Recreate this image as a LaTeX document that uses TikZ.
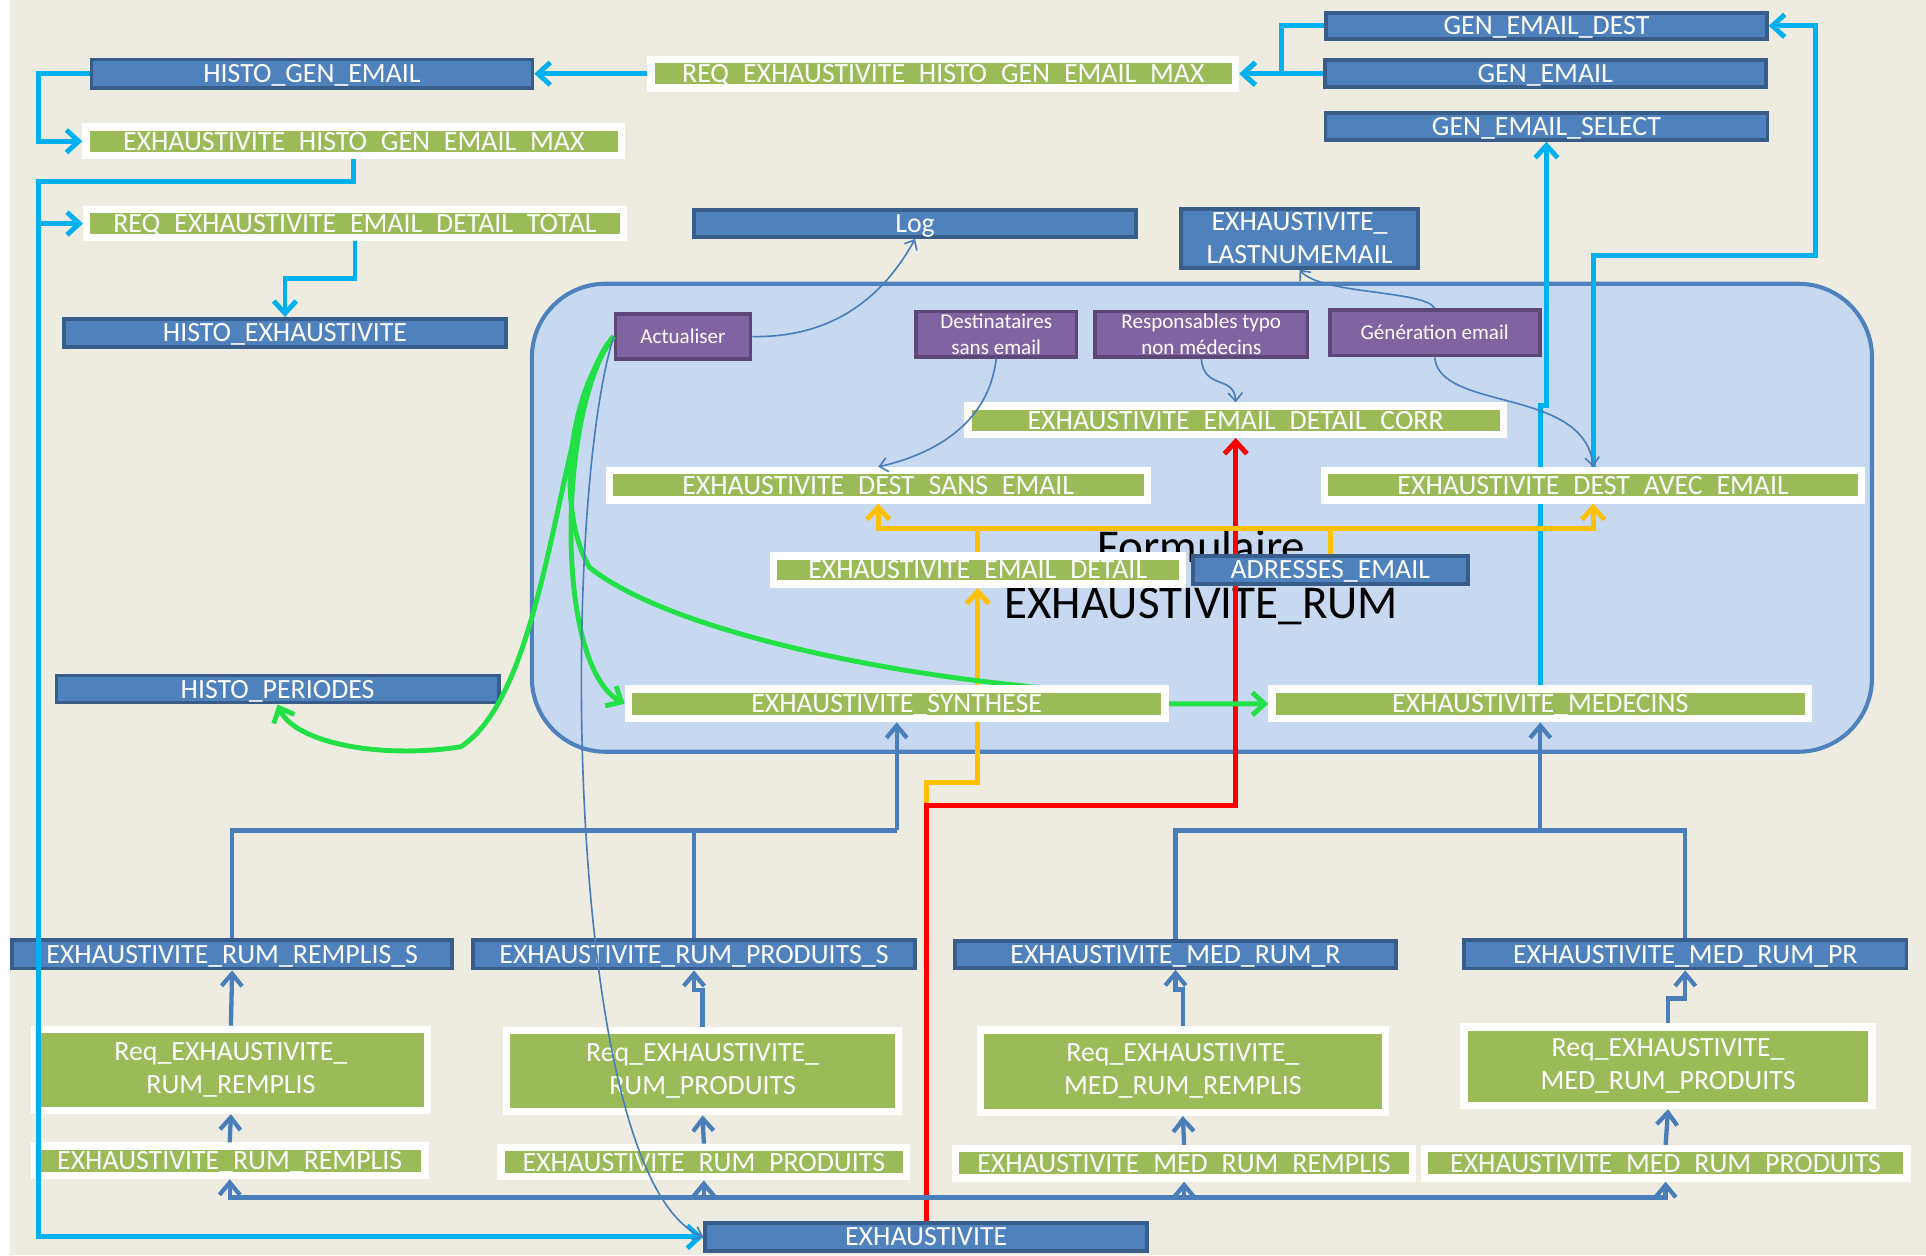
\documentclass[tikz,border=0pt]{standalone}
\usepackage{fontspec}
\setmainfont{Carlito}
\usetikzlibrary{arrows.meta}

\definecolor{paper}{HTML}{EEECE1}
\definecolor{tblfill}{HTML}{4F81BD}
\definecolor{tbledge}{HTML}{385D8A}
\definecolor{reqfill}{HTML}{9BBB59}
\definecolor{actfill}{HTML}{8064A2}
\definecolor{actedge}{HTML}{5C4776}
\definecolor{formfill}{HTML}{C6D9F1}
\definecolor{cyanc}{HTML}{00B0F0}
\definecolor{navc}{HTML}{22E046}
\definecolor{feedc}{HTML}{FFC000}
\definecolor{depc}{HTML}{4A7EBB}

\pgfdeclarelayer{back}
\pgfdeclarelayer{mid}
\pgfsetlayers{back,mid,main}

\tikzset{
  tbl/.style 2 args={draw=tbledge, fill=tblfill, line width=1.8pt, text=white,
    font=\fontsize{13.6}{16.2}\selectfont, inner sep=0pt, align=center,
    text height=8.8pt, text depth=0pt,
    minimum width={#1*0.6pt-1.8pt}, minimum height={#2*0.6pt-1.8pt}},
  req/.style 2 args={draw=white, fill=reqfill, line width=3.6pt, text=white,
    font=\fontsize{13.6}{16.2}\selectfont, inner sep=0pt, align=center,
    text height=8.8pt, text depth=0pt,
    minimum width={#1*0.6pt-3.6pt}, minimum height={#2*0.6pt-3.6pt}},
  act/.style 2 args={draw=actedge, fill=actfill, line width=1.8pt, text=white,
    font=\fontsize{10.3}{12.6}\selectfont, inner sep=0pt, align=center,
    text height=6.6pt, text depth=0pt,
    minimum width={#1*0.6pt-1.8pt}, minimum height={#2*0.6pt-1.8pt}},
  two/.style={text height=, text depth=},
  panel/.style={draw=tblfill, fill=formfill, line width=2pt, rounded corners=36pt},
  title/.style={font=\fontsize{23}{27.6}\selectfont, align=center, inner sep=0pt},
  flow/.style={draw=cyanc, line width=2.4pt, >={Straight Barb[length=6pt,width=11pt]}, ->},
  nav/.style={draw=navc, line width=2.4pt, >={Straight Barb[length=6pt,width=11pt]}, ->},
  feed/.style={draw=feedc, line width=2.4pt, >={Straight Barb[length=6pt,width=11pt]}, ->},
  hot/.style={draw=red, line width=2.4pt, >={Straight Barb[length=6pt,width=11pt]}, ->},
  dep/.style={draw=depc, line width=2.1pt, >={Straight Barb[length=6pt,width=10pt]}, ->},
  link/.style={draw=depc, line width=0.8pt, >={Straight Barb[length=4pt,width=7pt]}, ->},
}

\begin{document}
\begin{tikzpicture}[x=0.6pt, y=-0.6pt]
\useasboundingbox (0,0) rectangle (1568,1022);

% tables
\node[tbl={362}{26}] (histogen) at (254,60) {HISTO\_GEN\_EMAIL};
\node[tbl={362}{24}] (gendest) at (1259,21) {GEN\_EMAIL\_DEST};
\node[tbl={362}{25}] (genmail) at (1258,60) {GEN\_EMAIL};
\node[tbl={363}{25}] (gensel) at (1259,103) {GEN\_EMAIL\_SELECT};
\node[tbl={363}{25}] (log) at (745,182) {Log};
\node[tbl={196}{51},two] (lastnum) at (1058,194) {EXHAUSTIVITE\_\\LASTNUMEMAIL};
\node[tbl={363}{26}] (histoexh) at (232,271) {HISTO\_EXHAUSTIVITE};
\node[tbl={363}{25}] (histoper) at (226,561) {HISTO\_PERIODES};
\node[tbl={227}{26}] (adr) at (1083,464) {ADRESSES\_EMAIL};
\node[tbl={361}{26}] (rrs) at (189,777) {EXHAUSTIVITE\_RUM\_REMPLIS\_S};
\node[tbl={363}{26}] (rps) at (565,777) {EXHAUSTIVITE\_RUM\_PRODUITS\_S};
\node[tbl={362}{25}] (mrr) at (957,777) {EXHAUSTIVITE\_MED\_RUM\_R};
\node[tbl={363}{26}] (mrp) at (1372,777) {EXHAUSTIVITE\_MED\_RUM\_PR};
\node[tbl={363}{26}] (exh) at (754,1007) {EXHAUSTIVITE};

% requetes
\node[req={482}{29}] (reqmax) at (768,60) {REQ\_EXHAUSTIVITE\_HISTO\_GEN\_EMAIL\_MAX};
\node[req={442}{29}] (histomax) at (288,115) {EXHAUSTIVITE\_HISTO\_GEN\_EMAIL\_MAX};
\node[req={443}{29}] (reqtotal) at (289,182) {REQ\_EXHAUSTIVITE\_EMAIL\_DETAIL\_TOTAL};
\node[req={442}{29}] (corr) at (1006,342) {EXHAUSTIVITE\_EMAIL\_DETAIL\_CORR};
\node[req={444}{30}] (destsans) at (715,395) {EXHAUSTIVITE\_DEST\_SANS\_EMAIL};
\node[req={443}{30}] (destavec) at (1297,395) {EXHAUSTIVITE\_DEST\_AVEC\_EMAIL};
\node[req={339}{29}] (emaildet) at (796,464) {EXHAUSTIVITE\_EMAIL\_DETAIL};
\node[req={443}{30}] (synth) at (730,573) {EXHAUSTIVITE\_SYNTHESE};
\node[req={443}{30}] (medecins) at (1254,573) {EXHAUSTIVITE\_MEDECINS};
\node[req={326}{72},two] (reqrr) at (188,871) {Req\_EXHAUSTIVITE\_\\RUM\_REMPLIS};
\node[req={325}{72},two] (reqrp) at (572,872) {Req\_EXHAUSTIVITE\_\\RUM\_PRODUITS};
\node[req={336}{73},two] (reqmrr) at (963,872) {Req\_EXHAUSTIVITE\_\\MED\_RUM\_REMPLIS};
\node[req={338}{70},two] (reqmrp) at (1358,868) {Req\_EXHAUSTIVITE\_\\MED\_RUM\_PRODUITS};
\node[req={324}{30}] (err) at (187,945) {EXHAUSTIVITE\_RUM\_REMPLIS};
\node[req={336}{30}] (erp) at (573,946) {EXHAUSTIVITE\_RUM\_PRODUITS};
\node[req={378}{30}] (emrr) at (964,947) {EXHAUSTIVITE\_MED\_RUM\_REMPLIS};
\node[req={399}{30}] (emrp) at (1356,947) {EXHAUSTIVITE\_MED\_RUM\_PRODUITS};

% boutons du formulaire
\node[act={113}{40}] (act) at (556,274) {Actualiser};
\node[act={134}{40},two] (dest) at (811,272) {Destinataires\\sans email};
\node[act={176}{40},two] (resp) at (978,272) {Responsables typo\\non médecins};
\node[act={174}{40}] (gen) at (1168,271) {Génération email};

\begin{pgfonlayer}{back}
\fill[white] (0,0) rectangle (1568,1022);
\fill[paper] (8,0) rectangle (1568,1022);
\node[panel, minimum width=654.6pt, minimum height=228.6pt] (form) at (978.5,421.5) {};
\node[title] (formtitle) at (978,470) {Formulaire\\EXHAUSTIVITE\_RUM};
\end{pgfonlayer}

\coordinate (rail) at (31,148);
\coordinate (bus) at (900,430);
\coordinate (lj) at (730,676);
\coordinate (rj) at (1254,676);
\coordinate (low) at (754,975);

\begin{pgfonlayer}{mid}
\draw[dep,-] (exh.north) -- (low);
\draw[feed] (exh.north) -- ++(0,-357) -| (emaildet.south);
\draw[hot] (exh.north) -- ++(0,-338) -| (corr.south);
\draw[flow] (medecins.north) -- ++(0,-228) -| (gensel.south);
\draw[nav] (act.west) .. controls (458,330) and (455,420) .. (480,462)
  .. controls (540,510) and (700,545) .. (830,558) -- (synth.east) -- (medecins.west);
\end{pgfonlayer}

% historique
\draw[flow] (genmail.west) -- (reqmax.east);
\draw[flow] (gendest.west) -- ++(-35,0) |- (reqmax.east);
\draw[flow] (reqmax.west) -- (histogen.east);
\draw[flow] (histogen.west) -- ++(-42,0) |- (histomax.west);
\draw[flow] (histomax.south) |- (rail) |- (exh.west);
\draw[flow] (rail |- reqtotal.west) -- (reqtotal.west);
\draw[flow] (reqtotal.south) -- ++(0,30) -| (histoexh.north);
\draw[flow] (destavec.north) |- (1478,208) |- (gendest.east);

% adresses
\draw[feed,<->] (destsans.south) |- (bus) -| (destavec.south);
\draw[feed,-] (emaildet.north) -- (emaildet.north |- bus);
\draw[feed,-] (adr.north) -- (adr.north |- bus);

% actualiser
\draw[nav] (act.west) .. controls (455,320) and (450,560) .. (375,608)
  .. controls (310,618) and (240,605) .. (histoper.south);
\draw[nav] (act.west) .. controls (455,330) and (450,540) .. (synth.west);

% chaine RUM
\draw[dep,-] (rrs.north) |- (lj);
\draw[dep,-] (rps.north) -- (rps.north |- lj);
\draw[dep] (lj) -- (synth.south);
\draw[dep,-] (mrr.north) |- (rj) -| (mrp.north);
\draw[dep] (rj) -- (medecins.south);
\draw[dep] (reqrr.north) -- (rrs.south);
\draw[dep] (reqrp.north) -- ++(0,-30) -| (rps.south);
\draw[dep] (reqmrr.north) -- ++(0,-30) -| (mrr.south);
\draw[dep] (reqmrp.north) -- ++(0,-20) -| (mrp.south);
\draw[dep] (err.north) -- (reqrr.south);
\draw[dep] (erp.north) -- (reqrp.south);
\draw[dep] (emrr.north) -- (reqmrr.south);
\draw[dep] (emrp.north) -- (reqmrp.south);
\foreach \t in {err,erp,emrr,emrp}
  \draw[dep] (low) -| (\t.south);

% boutons
\draw[link] (act.east) .. controls (680,275) and (720,240) .. (log.south);
\draw[link] (act.west) .. controls (455,420) and (460,960) .. (exh.west);
\draw[link] (dest.south) .. controls (805,345) and (760,370) .. (destsans.north);
\draw[link] (resp.south) .. controls (980,318) and (1005,305) .. (corr.north);
\draw[link] (gen.north) .. controls (1160,236) and (1075,240) .. (lastnum.south);
\draw[link] (gen.south) .. controls (1172,335) and (1290,315) .. (destavec.north);

\end{tikzpicture}
\end{document}
